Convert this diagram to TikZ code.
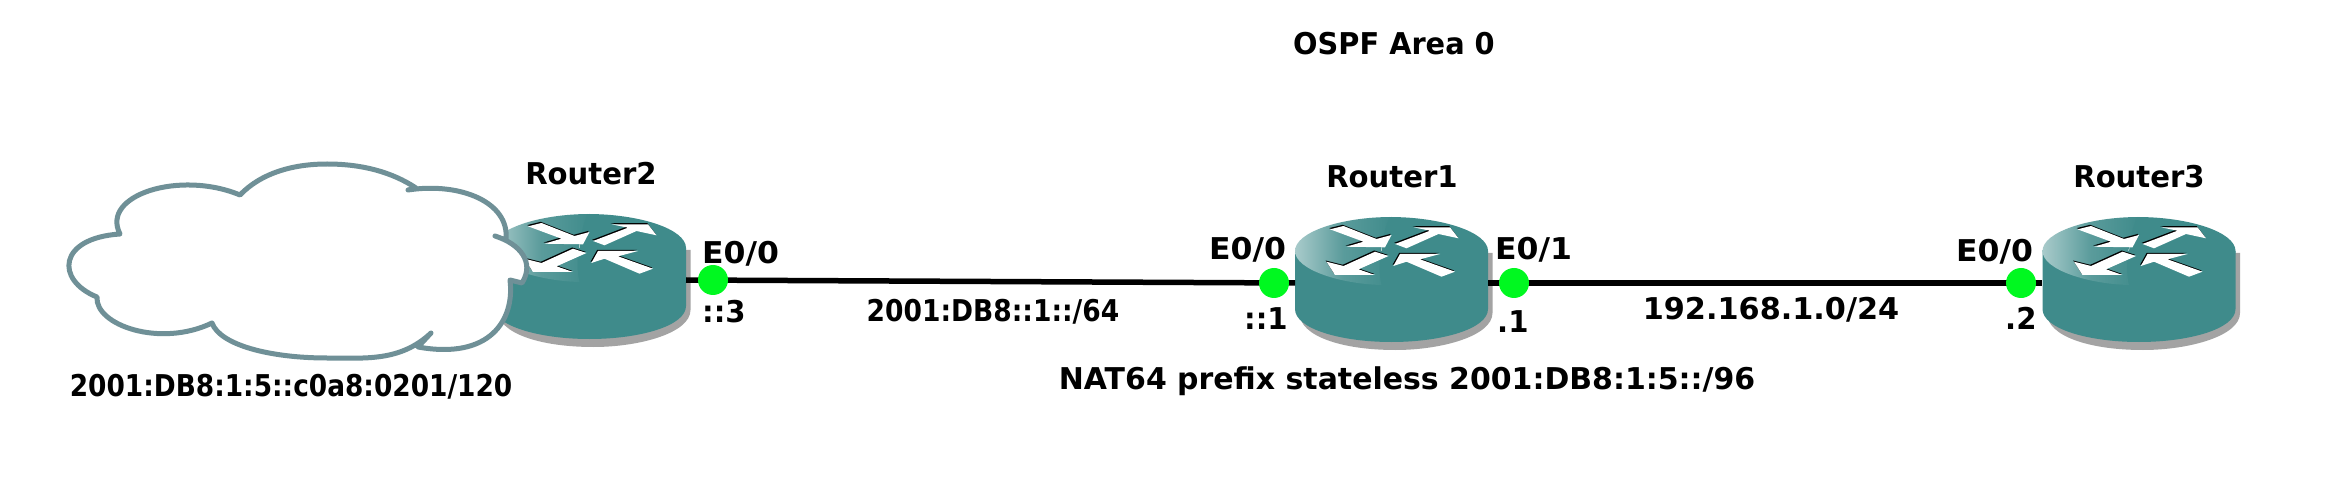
\documentclass[tikz,border=0pt]{standalone}
\usepackage{fontspec}
\usepackage{graphicx}
\setmainfont{DejaVu Sans}
\definecolor{rteal}{HTML}{3F8B8B}
\definecolor{rshadow}{HTML}{A3A3A3}
\definecolor{cloudline}{HTML}{6F9097}
\definecolor{portgreen}{HTML}{00F820}
\tikzset{
  x=1pt,y=-1pt,
  lbl/.style={inner sep=0pt,font=\bfseries\fontsize{30}{30}\selectfont,anchor=base,text=black},
  lblw/.style={lbl,anchor=base west},
  link/.style={line width=5.5pt,black},
  port/.style={circle,fill=portgreen,minimum size=30pt,inner sep=0pt},
}
\newcommand{\sx}[2]{\scalebox{#1}[1]{#2}}
\newcommand{\twotone}[1]{%
  \fill[black,xshift=-0.8pt,yshift=1.2pt] #1;
  \fill[white] #1;}
\newcommand{\routerat}[1]{%
  \begin{scope}[shift={(#1)}]
    \fill[rshadow] (-92,2) -- (101,2) -- (101,62) .. controls (101,85) and (50,99) .. (4,99) .. controls (-50,99) and (-92,85) .. (-92,62) -- cycle;
    \fill[rteal] (-96.5,0) -- (96.5,0) -- (96.5,58) .. controls (96.5,78) and (50,91) .. (0,91) .. controls (-50,91) and (-96.5,78) .. (-96.5,58) -- cycle;
    \shade[left color=white!55!rteal,right color=rteal,middle color=rteal!86!white] (-96.5,0) .. controls (-96.5,-19) and (-50,-34) .. (0,-34) .. controls (-10,-15) and (-15,15) .. (-10,34) .. controls (-50,33) and (-96.5,19) .. (-96.5,0) -- cycle;
    \fill[rteal] (-2,-34) .. controls (50,-34) and (96.5,-19) .. (96.5,0) .. controls (96.5,19) and (50,34) .. (-2,34) .. controls (-15,15) and (-10,-15) .. (-2,-34) -- cycle;
    \twotone{(-61.5,-21.7) -- (-48,-25) -- (-15,-12) -- (0,-16) -- (-6.5,-3.7) -- (-45,-4.3) -- (-28,-9.3) -- cycle}
    \twotone{(22,-23.7) -- (58.5,-23.7) -- (67,-12.7) -- (47,-17) -- (15,-2.7) -- (3.5,-7) -- (38.5,-20.3) -- cycle}
    \twotone{(-65,10.7) -- (-48,15) -- (-16.5,0.7) -- (-3,5) -- (-33,18.3) -- (-16.5,24) -- (-56.5,24) -- cycle}
    \twotone{(1.8,15) -- (8.5,3) -- (48.5,3) -- (28.5,8.3) -- (63.5,20.7) -- (50,25.7) -- (15,10.7) -- cycle}
  \end{scope}}
\begin{document}
\begin{tikzpicture}
\useasboundingbox (0,0) rectangle (2350,494);
\fill[white] (0,0) rectangle (2350,494);
\routerat{589.5,248}
\routerat{1391.5,251}
\routerat{2139,251}
\coordinate (r2e) at (686,280);
\coordinate (r1w) at (1295,283);
\coordinate (r1e) at (1488,283);
\coordinate (r3w) at (2042,283);
\draw[link] (r2e) -- (r1w);
\draw[link] (r1e) -- (r3w);
\node[port] (p2) at (713,280) {};
\node[port] (p1a) at (1274,283) {};
\node[port] (p1b) at (1514,283) {};
\node[port] (p3) at (2021,283) {};
\draw[cloudline,line width=5pt,fill=white,line join=round]
  (240,195) .. controls (262,172) and (295,164) .. (327,164)
  .. controls (362,164) and (392,172) .. (416,188) -- (408,190)
  .. controls (460,182) and (510,202) .. (506,240) -- (495,236)
  .. controls (520,244) and (535,262) .. (522,283) -- (510,280)
  .. controls (515,320) and (490,360) .. (418,347) -- (431,333)
  .. controls (400,362) and (365,358) .. (327,358)
  .. controls (270,358) and (220,345) .. (212,323)
  .. controls (160,348) and (95,325) .. (97,297)
  .. controls (55,280) and (58,238) .. (120,234)
  .. controls (100,195) and (180,170) .. (240,195) -- cycle;
\node[lbl] (tarea) at (1394,55) {\sx{0.96}{OSPF Area 0}};
\node[lbl] (tr2) at (591,185) {\sx{0.97}{Router2}};
\node[lbl] (tr1) at (1392,187.5) {\sx{0.97}{Router1}};
\node[lbl] (tr3) at (2139,187.5) {\sx{0.97}{Router3}};
\node[lblw] (e2) at (702,263.5) {\sx{1.05}{E0/0}};
\node[lblw] (i2) at (702,323) {\sx{0.97}{::3}};
\node[lblw] (e1a) at (1209,259.5) {\sx{1.05}{E0/0}};
\node[lblw] (i1a) at (1244,329) {\sx{0.97}{::1}};
\node[lblw] (e1b) at (1495,259.5) {\sx{1.05}{E0/1}};
\node[lblw] (i1b) at (1497,332) {\sx{0.97}{.1}};
\node[lblw] (e3) at (1956,262) {\sx{1.05}{E0/0}};
\node[lblw] (i3) at (2005,329) {\sx{0.97}{.2}};
\node[lbl] (tn1) at (993,321) {\sx{0.884}{2001:DB8::1::/64}};
\node[lbl] (tn2) at (1771,319.5) {\sx{1.01}{192.168.1.0/24}};
\node[lbl] (tn3) at (1407,389) {\sx{0.998}{NAT64 prefix stateless 2001:DB8:1:5::/96}};
\node[lbl] (tn4) at (291,396) {\sx{0.88}{2001:DB8:1:5::c0a8:0201/120}};
\end{tikzpicture}
\end{document}
